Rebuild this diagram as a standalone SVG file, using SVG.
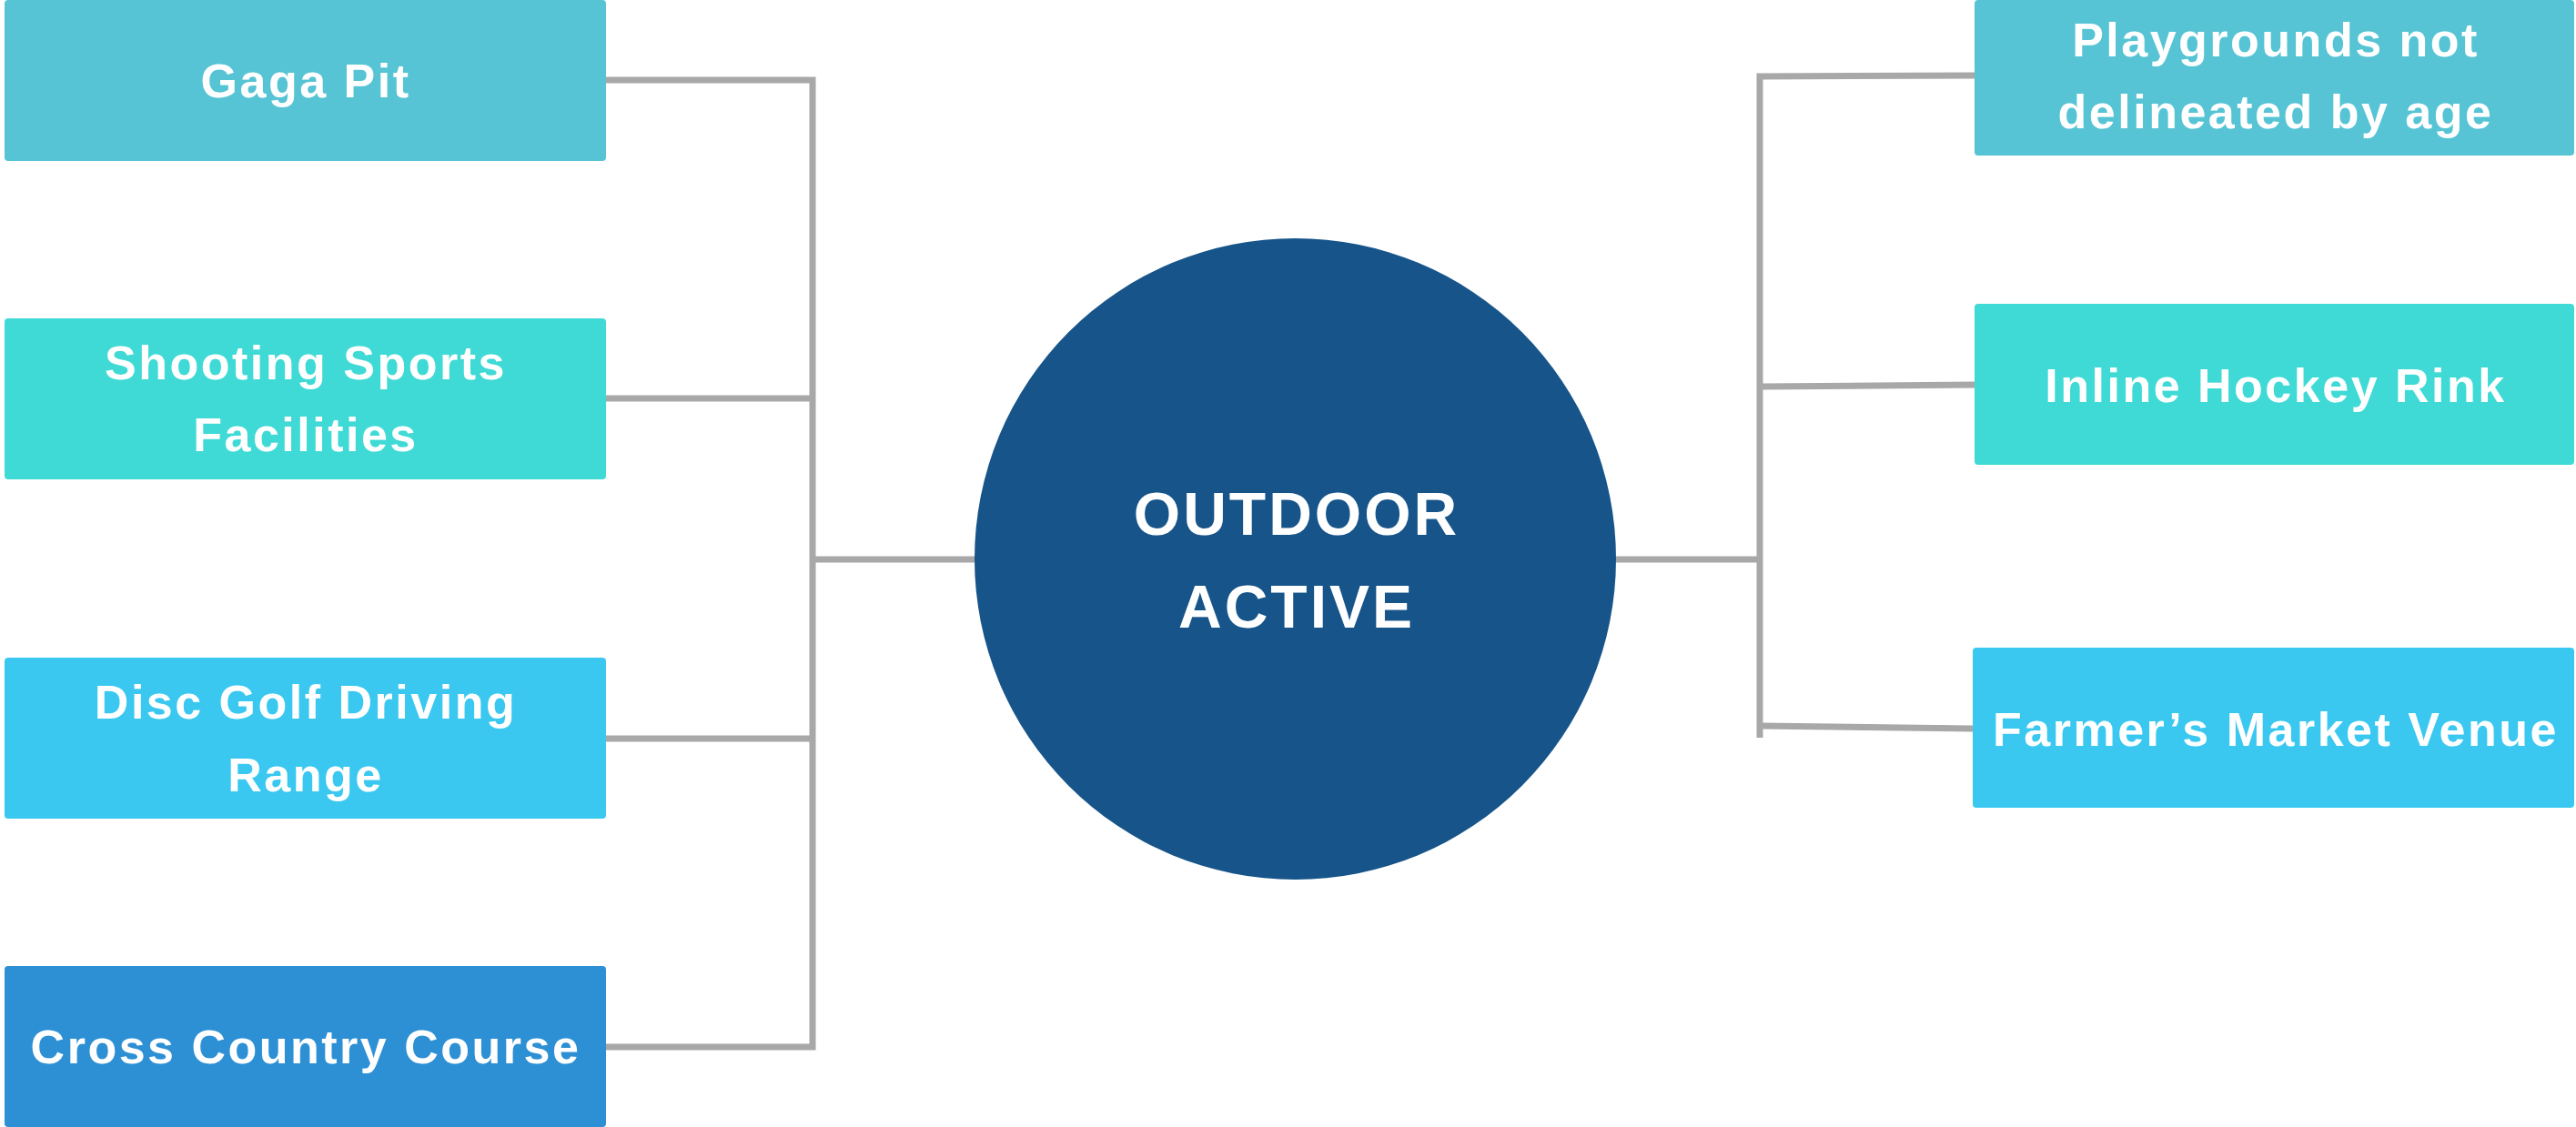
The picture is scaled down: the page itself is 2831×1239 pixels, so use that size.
<svg xmlns="http://www.w3.org/2000/svg" width="2831" height="1239" viewBox="0 0 2831 1239">
<style>
.box-t{font-family:"Liberation Sans",Arial,sans-serif;font-weight:bold;font-size:52px;fill:#ffffff;text-anchor:middle;letter-spacing:2.5px}
.hub-t{font-family:"Liberation Sans",Arial,sans-serif;font-weight:bold;font-size:66px;fill:#ffffff;text-anchor:middle;letter-spacing:3px}
.conn{stroke:#a8a8a8;stroke-width:7;fill:none}
</style>
<rect width="2831" height="1239" fill="#ffffff"/>
<g id="connectors">
<path class="conn" d="M666 88 H893 V1151 H666"/>
<path class="conn" d="M666 438 H893"/>
<path class="conn" d="M666 812 H893"/>
<path class="conn" d="M893 615 H1071"/>
<path class="conn" d="M1776 615 H1934"/>
<path class="conn" d="M2170 83 L1934 84 V811"/>
<path class="conn" d="M1934 425 L2170 423"/>
<path class="conn" d="M1934 798 L2168 801"/>
</g>
<g id="hub">
<circle cx="1423.5" cy="614.5" r="352.5" fill="#165489"/>
<text class="hub-t" x="1425" y="588">OUTDOOR</text>
<text class="hub-t" x="1425" y="690">ACTIVE</text>
</g>
<g id="gaga-pit">
<rect x="5" y="0" width="661" height="177" rx="4" fill="#56c4d4"/>
<text class="box-t" x="336" y="107">Gaga Pit</text>
</g>
<g id="shooting-sports">
<rect x="5" y="350" width="661" height="177" rx="4" fill="#40dad6"/>
<text class="box-t" x="336" y="417">Shooting Sports</text>
<text class="box-t" x="336" y="496">Facilities</text>
</g>
<g id="disc-golf">
<rect x="5" y="723" width="661" height="177" rx="4" fill="#3ac8f0"/>
<text class="box-t" x="336" y="790">Disc Golf Driving</text>
<text class="box-t" x="336" y="870">Range</text>
</g>
<g id="cross-country">
<rect x="5" y="1062" width="661" height="177" rx="4" fill="#2e90d4"/>
<text class="box-t" x="336" y="1169">Cross Country Course</text>
</g>
<g id="playgrounds">
<rect x="2170" y="0" width="659" height="171" rx="4" fill="#56c4d4"/>
<text class="box-t" x="2501" y="62">Playgrounds not</text>
<text class="box-t" x="2501" y="141">delineated by age</text>
</g>
<g id="inline-hockey">
<rect x="2170" y="334" width="659" height="177" rx="4" fill="#40dad6"/>
<text class="box-t" x="2501" y="442">Inline Hockey Rink</text>
</g>
<g id="farmers-market">
<rect x="2168" y="712" width="661" height="176" rx="4" fill="#3ac8f0"/>
<text class="box-t" x="2501" y="820" letter-spacing="3">Farmer’s Market Venue</text>
</g>
</svg>
